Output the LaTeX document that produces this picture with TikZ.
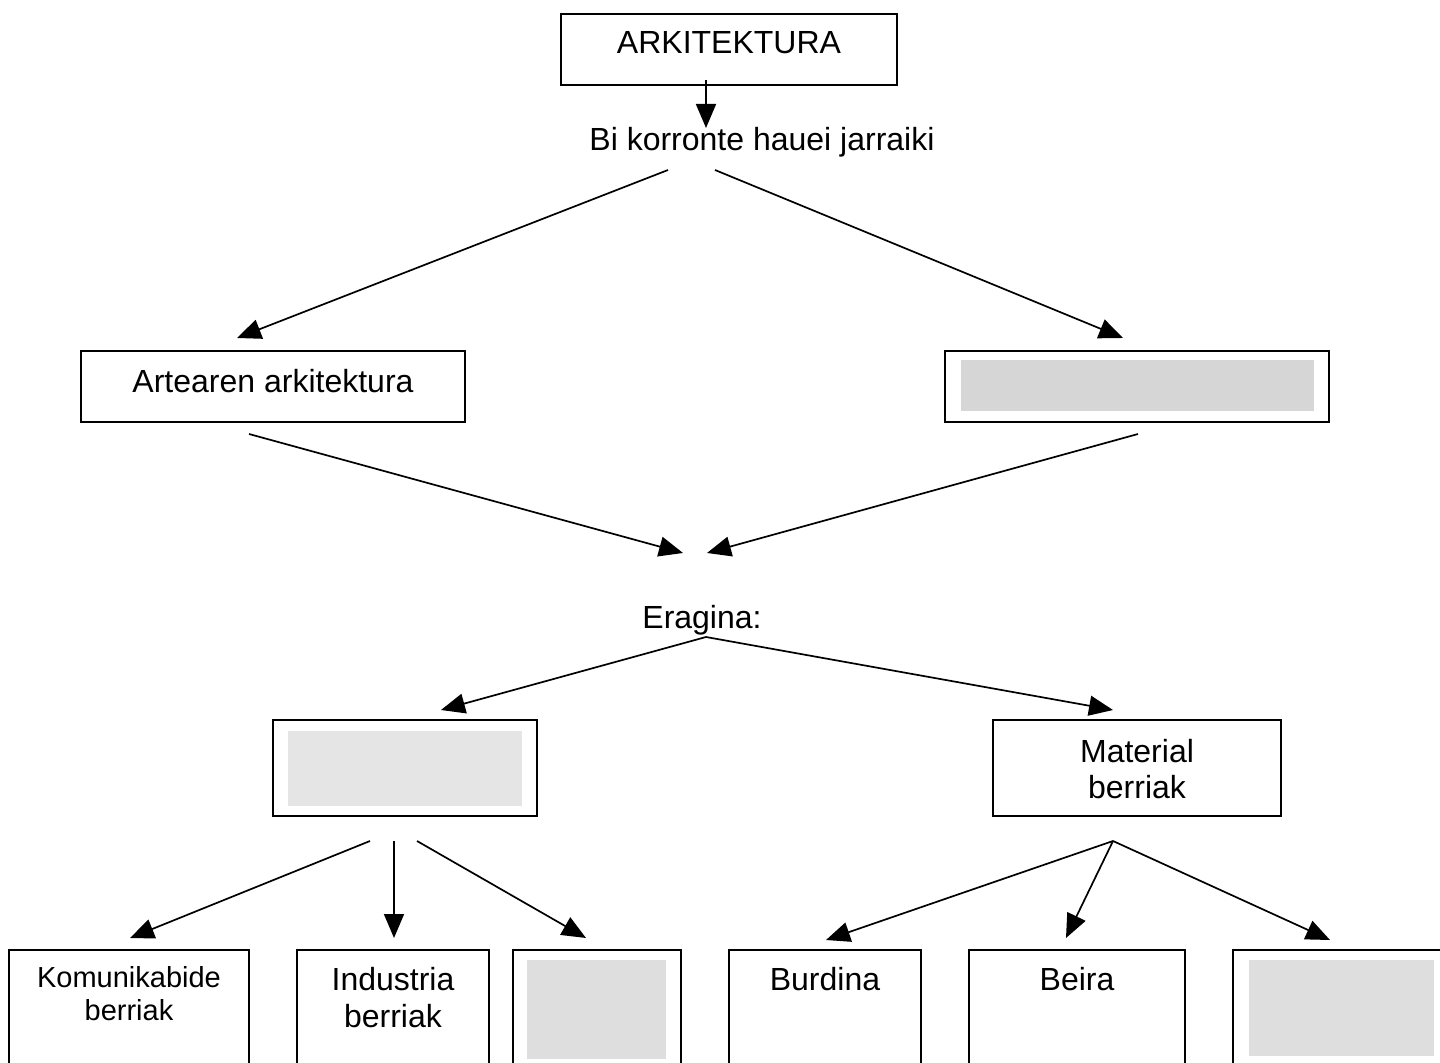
\documentclass[tikz,border=0pt]{standalone}
\usepackage{fontspec}
\setmainfont{Liberation Sans}
\usetikzlibrary{arrows.meta,calc}
\begin{document}
\begin{tikzpicture}[x=0.5pt,y=-0.5pt,
  box/.style={draw, line width=0.75pt, inner sep=0pt},
  blank/.style={fill=#1, draw=none, inner sep=0pt},
  txt/.style={inner sep=0pt, align=center, font=\fontsize{16}{18}\selectfont},
  arr/.style={line width=0.85pt, -{Triangle[length=12pt,width=10pt]}}]
\useasboundingbox (0,0) rectangle (1440,1063);
\clip (0,0) rectangle (1440,1063);
% boxes
\node[box, minimum width=168pt, minimum height=35.5pt] (arch) at (729,49.5) {};
\node[txt] (archt) at (729,43) {ARKITEKTURA};
\node[txt] (bi) at (762,142) {Bi korronte hauei jarraiki};
\node[box, minimum width=192pt, minimum height=35.5pt] (arte) at (273,386.5) {};
\node[txt] (artet) at (273,381) {Artearen arkitektura};
\node[box, minimum width=192pt, minimum height=35.5pt] (rbox) at (1137,386.5) {};
\node[blank=black!16, minimum width=176.5pt, minimum height=25.5pt] (rgrey) at (1137.5,385.5) {};
\node[txt] (erag) at (702,620) {Eragina:};
\node[box, minimum width=132pt, minimum height=48pt] (lbox) at (405,768) {};
\node[blank=black!10, minimum width=117pt, minimum height=37.5pt] (lgrey) at (405,768.5) {};
\node[box, minimum width=144pt, minimum height=48pt] (mat) at (1137,768) {};
\node[txt] (matt) at (1137,769) {Material\\berriak};
% bottom row
\node[box, minimum width=120pt, minimum height=70pt] (kom) at (129,1020) {};
\node[txt, font=\fontsize{14.5}{16.5}\selectfont] (komt) at (129,994) {Komunikabide\\berriak};
\node[box, minimum width=96pt, minimum height=70pt] (ind) at (393,1020) {};
\node[txt, font=\fontsize{16}{18.5}\selectfont] (indt) at (393,998) {Industria\\berriak};
\node[box, minimum width=84pt, minimum height=70pt] (b3) at (597,1020) {};
\node[blank=black!13, minimum width=69.5pt, minimum height=49.5pt] (b3g) at (596.5,1009.5) {};
\node[box, minimum width=96pt, minimum height=70pt] (burd) at (825,1020) {};
\node[txt] (burdt) at (825,979) {Burdina};
\node[box, minimum width=108pt, minimum height=70pt] (beir) at (1077,1020) {};
\node[txt] (beirt) at (1077,979) {Beira};
\node[box, minimum width=113.5pt, minimum height=70pt] (b6) at (1346.5,1020) {};
\node[blank=black!13, minimum width=92.5pt, minimum height=48pt] (b6g) at (1341.5,1008) {};
% connector end points
\coordinate (a0s) at (706,80);
\coordinate (a0e) at (706,128);
\coordinate (a1s) at (668,170);
\coordinate (a1e) at (237,338);
\coordinate (a2s) at (715,170);
\coordinate (a2e) at (1123,338);
\coordinate (a3s) at (249,434);
\coordinate (a3e) at (683,553);
\coordinate (a4s) at (1138,434);
\coordinate (a4e) at (707,553);
\coordinate (e0) at (706,637);
\coordinate (a5e) at (441,710);
\coordinate (a6e) at (1113,710);
\coordinate (l1) at (370,841);
\coordinate (l2) at (394,841);
\coordinate (l3) at (417,841);
\coordinate (a7e) at (130,938);
\coordinate (a8e) at (394,938);
\coordinate (a9e) at (586,938);
\coordinate (m0) at (1113,841);
\coordinate (b1e) at (826,940);
\coordinate (b2e) at (1066,938);
\coordinate (b3e) at (1330,940);
% connectors
\draw[arr] (a0s) -- (a0e);
\draw[arr] (a1s) -- (a1e);
\draw[arr] (a2s) -- (a2e);
\draw[arr] (a3s) -- (a3e);
\draw[arr] (a4s) -- (a4e);
\draw[arr] (e0) -- (a5e);
\draw[arr] (e0) -- (a6e);
\draw[arr] (l1) -- (a7e);
\draw[arr] (l2) -- (a8e);
\draw[arr] (l3) -- (a9e);
\draw[arr] (m0) -- (b1e);
\draw[arr] (m0) -- (b2e);
\draw[arr] (m0) -- (b3e);
\end{tikzpicture}
\end{document}
